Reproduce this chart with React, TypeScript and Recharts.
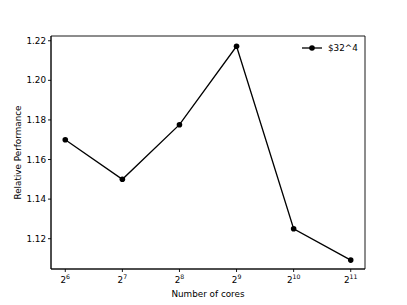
import React from 'react';
import {
  LineChart,
  Line,
  XAxis,
  YAxis,
  Legend,
  ReferenceArea,
} from 'recharts';

// x positions are log2(cores)
const coreExps = [6, 7, 8, 9, 10, 11];
const relPerf = [1.17, 1.15, 1.1776, 1.2172, 1.125, 1.1092];
const yTicks = [1.12, 1.14, 1.16, 1.18, 1.2, 1.22];
const seriesName = '$32^4';

const data = coreExps.map((e, i) => ({ exp: e, perf: relPerf[i] }));

const FONT = 'DejaVu Sans, sans-serif';
const X_DOMAIN = [5.75, 11.25];
const Y_DOMAIN = [1.1047, 1.2224];

const PowTick = ({ x, y, payload }: any) => (
  <text x={x} y={y + 9} textAnchor="middle" fontFamily={FONT} fontSize={8.8} fill="#000">
    <tspan>2</tspan>
    <tspan dy={-4} fontSize={6.2}>{payload.value}</tspan>
  </text>
);

const LegendBox = () => (
  <div style={{ display: 'flex', alignItems: 'center', fontFamily: FONT, fontSize: 8.8 }}>
    <svg width={22} height={8}>
      <line x1={1} y1={4} x2={21} y2={4} stroke="#000" strokeWidth={1.3} />
      <circle cx={11} cy={4} r={2.8} fill="#000" />
    </svg>
    <span style={{ marginLeft: 5 }}>{seriesName}</span>
  </div>
);

const App = () => (
  <div style={{ position: 'absolute', left: 0, top: 0, background: '#fff' }}>
    <LineChart
      width={407}
      height={305}
      data={data}
      margin={{ top: 36, right: 42, left: 0, bottom: 0 }}
    >
      <ReferenceArea
        x1={X_DOMAIN[0]}
        x2={X_DOMAIN[1]}
        y1={Y_DOMAIN[0]}
        y2={Y_DOMAIN[1]}
        stroke="#000"
        strokeWidth={0.9}
        fill="none"
        ifOverflow="visible"
      />
      <XAxis
        dataKey="exp"
        type="number"
        domain={X_DOMAIN}
        ticks={coreExps}
        allowDataOverflow
        height={36}
        tickSize={3}
        axisLine={{ stroke: '#000', strokeWidth: 0.9 }}
        tickLine={{ stroke: '#000', strokeWidth: 0.9 }}
        tick={<PowTick />}
        label={{
          value: 'Number of cores',
          position: 'insideBottom',
          offset: 8,
          style: { fontFamily: FONT, fontSize: 8.8, fill: '#000' },
        }}
      />
      <YAxis
        type="number"
        domain={Y_DOMAIN}
        ticks={yTicks}
        allowDataOverflow
        width={51}
        tickSize={3}
        tickFormatter={(v: number) => v.toFixed(2)}
        axisLine={{ stroke: '#000', strokeWidth: 0.9 }}
        tickLine={{ stroke: '#000', strokeWidth: 0.9 }}
        tick={{ fontFamily: FONT, fontSize: 8.8, fill: '#000' }}
        label={{
          value: 'Relative Performance',
          angle: -90,
          position: 'insideLeft',
          offset: 18,
          style: { fontFamily: FONT, fontSize: 8.8, fill: '#000', textAnchor: 'middle' },
        }}
      />
      <Legend
        layout="horizontal"
        verticalAlign="middle"
        align="center"
        content={<LegendBox />}
        wrapperStyle={{ position: 'absolute', left: 301, top: 43, width: 80 }}
      />
      <Line
        dataKey="perf"
        name={seriesName}
        stroke="#000"
        strokeWidth={1.3}
        dot={{ r: 2.8, fill: '#000', stroke: '#000', strokeWidth: 0 }}
        activeDot={false}
        isAnimationActive={false}
      />
    </LineChart>
  </div>
);

export default App;
